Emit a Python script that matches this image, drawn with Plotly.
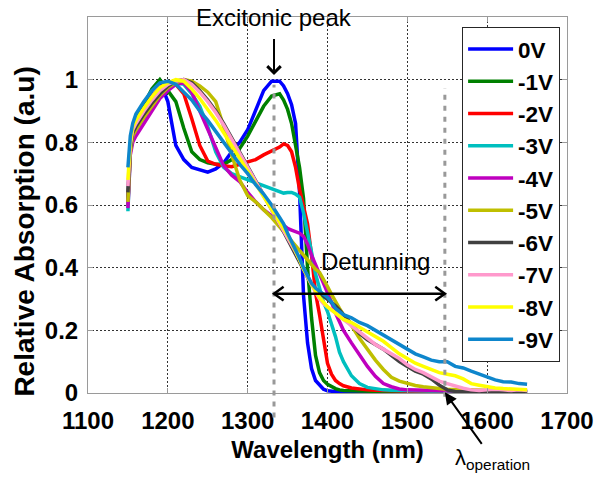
import plotly.graph_objects as go

# Wavelength grid (nm)
wavelength = [1150, 1153, 1156,
              1160, 1170, 1180, 1190, 1200, 1210, 1220, 1230, 1240, 1250, 1260, 1270, 1280, 1290, 1300, 1310, 1320, 1330, 1340,
              1345, 1350, 1355, 1360, 1365, 1370, 1375, 1380, 1385, 1390, 1395, 1400, 1405, 1410, 1415, 1420,
              1430, 1440, 1450, 1460, 1470, 1480, 1490, 1500, 1510, 1520, 1530, 1540, 1550, 1560, 1570, 1580, 1590,
              1600, 1610, 1620, 1630, 1640, 1650]

abs_0V = [0.62, 0.79, 0.84,
          0.87, 0.92, 0.965, 0.995, 0.93, 0.79, 0.745, 0.72, 0.712, 0.705, 0.715, 0.735, 0.77, 0.80, 0.84, 0.90, 0.965, 0.995, 0.995,
          0.98, 0.955, 0.92, 0.86, 0.64, 0.31, 0.16, 0.078, 0.04, 0.024, 0.012, 0.007, 0.005, 0.004, 0.003, 0.003,
          0.003, 0.003, 0.003, 0.003, 0.003, 0.003, 0.003, 0.003, 0.003, 0.003, 0.003, 0.003, 0.003, 0.003, 0.003,
          0.003, 0.003, 0.003, 0.003, 0.003, 0.003, 0.003, 0.003]
abs_1V = [0.61, 0.78, 0.83,
          0.87, 0.92, 0.97, 1.0, 0.965, 0.93, 0.845, 0.77, 0.745, 0.735, 0.73, 0.73, 0.745, 0.78, 0.82, 0.865, 0.915, 0.948, 0.955,
          0.935, 0.905, 0.86, 0.79, 0.72, 0.62, 0.40, 0.24, 0.12, 0.065, 0.04, 0.028, 0.02, 0.014, 0.01, 0.008,
          0.007, 0.006, 0.005, 0.005, 0.004, 0.004, 0.004, 0.003, 0.003, 0.003, 0.003, 0.003, 0.003, 0.003, 0.003,
          0.003, 0.003, 0.003, 0.003, 0.003, 0.003, 0.003, 0.003]
abs_2V = [0.60, 0.78, 0.83,
          0.86, 0.905, 0.945, 0.975, 0.99, 0.985, 0.955, 0.875, 0.79, 0.74, 0.73, 0.725, 0.722, 0.73, 0.738, 0.745, 0.76, 0.772, 0.785,
          0.795, 0.79, 0.77, 0.72, 0.65, 0.60, 0.54, 0.44, 0.32, 0.25, 0.165, 0.095, 0.06, 0.04, 0.03, 0.023,
          0.016, 0.012, 0.01, 0.009, 0.008, 0.007, 0.006, 0.006, 0.005, 0.005, 0.005, 0.005, 0.005, 0.005, 0.005,
          0.005, 0.005, 0.005, 0.005, 0.005, 0.005, 0.005, 0.005]
abs_3V = [0.58, 0.77, 0.81,
          0.84, 0.88, 0.92, 0.955, 0.98, 0.99, 0.985, 0.955, 0.915, 0.85, 0.77, 0.72, 0.70, 0.69, 0.68, 0.67, 0.66, 0.652, 0.642,
          0.638, 0.64, 0.64, 0.635, 0.625, 0.575, 0.515, 0.45, 0.38, 0.33, 0.29, 0.26, 0.22, 0.18, 0.13, 0.10,
          0.055, 0.03, 0.018, 0.013, 0.01, 0.009, 0.008, 0.007, 0.007, 0.006, 0.006, 0.006, 0.006, 0.006, 0.006,
          0.006, 0.006, 0.006, 0.006, 0.006, 0.006, 0.006, 0.006]
abs_4V = [0.59, 0.76, 0.80,
          0.82, 0.86, 0.90, 0.94, 0.965, 0.985, 0.99, 0.96, 0.90, 0.84, 0.78, 0.725, 0.695, 0.675, 0.64, 0.61, 0.585, 0.565, 0.545,
          0.535, 0.525, 0.52, 0.515, 0.51, 0.50, 0.475, 0.44, 0.41, 0.385, 0.355, 0.32, 0.29, 0.255, 0.23, 0.20,
          0.16, 0.12, 0.085, 0.053, 0.03, 0.02, 0.013, 0.01, 0.009, 0.008, 0.007, 0.007, 0.007, 0.007, 0.007,
          0.007, 0.007, 0.007, 0.007, 0.007, 0.007, 0.007, 0.007]
abs_5V = [0.61, 0.77, 0.82,
          0.84, 0.88, 0.915, 0.95, 0.975, 0.99, 1.0, 0.995, 0.98, 0.96, 0.93, 0.85, 0.76, 0.68, 0.63, 0.61, 0.585, 0.56, 0.53,
          0.515, 0.50, 0.485, 0.47, 0.455, 0.44, 0.425, 0.41, 0.395, 0.385, 0.365, 0.34, 0.315, 0.29, 0.27, 0.25,
          0.215, 0.175, 0.14, 0.105, 0.075, 0.05, 0.038, 0.03, 0.024, 0.02, 0.016, 0.014, 0.012, 0.011, 0.01,
          0.01, 0.009, 0.009, 0.008, 0.008, 0.008, 0.008, 0.008]
abs_6V = [0.64, 0.78, 0.83,
          0.85, 0.89, 0.925, 0.955, 0.98, 0.995, 1.0, 0.99, 0.965, 0.935, 0.90, 0.86, 0.815, 0.77, 0.725, 0.675, 0.63, 0.585, 0.54,
          0.515, 0.49, 0.465, 0.44, 0.415, 0.39, 0.365, 0.345, 0.33, 0.32, 0.31, 0.30, 0.29, 0.278, 0.265, 0.25,
          0.22, 0.19, 0.17, 0.155, 0.14, 0.12, 0.10, 0.085, 0.07, 0.06, 0.045, 0.025, 0.01, 0.005, 0.004,
          0.004, 0.004, 0.004, 0.004, 0.004, 0.004, 0.004, 0.004]
abs_7V = [0.66, 0.79, 0.84,
          0.86, 0.90, 0.935, 0.965, 0.985, 0.995, 1.0, 0.985, 0.96, 0.93, 0.895, 0.855, 0.81, 0.765, 0.72, 0.675, 0.63, 0.585, 0.54,
          0.52, 0.50, 0.475, 0.45, 0.425, 0.395, 0.37, 0.345, 0.32, 0.30, 0.285, 0.275, 0.265, 0.255, 0.245, 0.235,
          0.215, 0.195, 0.175, 0.155, 0.14, 0.125, 0.11, 0.09, 0.075, 0.065, 0.05, 0.038, 0.03, 0.022, 0.015,
          0.01, 0.008, 0.01, 0.012, 0.01, 0.008, 0.01, 0.008]
abs_8V = [0.68, 0.80, 0.85,
          0.87, 0.91, 0.945, 0.975, 0.99, 1.0, 0.995, 0.97, 0.94, 0.905, 0.87, 0.83, 0.79, 0.75, 0.71, 0.67, 0.63, 0.59, 0.55,
          0.53, 0.505, 0.48, 0.455, 0.425, 0.395, 0.37, 0.345, 0.325, 0.305, 0.29, 0.275, 0.265, 0.255, 0.245, 0.235,
          0.225, 0.21, 0.195, 0.18, 0.165, 0.145, 0.125, 0.11, 0.095, 0.085, 0.075, 0.065, 0.06, 0.055, 0.045,
          0.03, 0.025, 0.02, 0.016, 0.014, 0.012, 0.01, 0.01]
abs_9V = [0.72, 0.82, 0.86,
          0.89, 0.93, 0.965, 0.99, 0.995, 0.985, 0.96, 0.935, 0.90, 0.87, 0.835, 0.80, 0.765, 0.73, 0.70, 0.665, 0.635, 0.60, 0.56,
          0.54, 0.51, 0.485, 0.455, 0.43, 0.40, 0.375, 0.35, 0.335, 0.325, 0.315, 0.305, 0.29, 0.27, 0.26, 0.25,
          0.24, 0.225, 0.215, 0.20, 0.185, 0.17, 0.155, 0.14, 0.125, 0.115, 0.105, 0.10, 0.10, 0.085, 0.08,
          0.07, 0.06, 0.05, 0.042, 0.036, 0.035, 0.03, 0.028]

series_names = ["0V", "-1V", "-2V", "-3V", "-4V", "-5V", "-6V", "-7V", "-8V", "-9V"]
series_values = [abs_0V, abs_1V, abs_2V, abs_3V, abs_4V, abs_5V, abs_6V, abs_7V, abs_8V, abs_9V]
series_colors = ["#0000FF", "#008000", "#FF0000", "#00BFBF", "#BF00BF",
                 "#BFBF00", "#404040", "#FF99CC", "#FFFF00", "#0E86CC"]

x_ticks = [1100, 1200, 1300, 1400, 1500, 1600, 1700]
y_ticks = [0, 0.2, 0.4, 0.6, 0.8, 1]
y_ticklabels = ["0", "0.2", "0.4", "0.6", "0.8", "1"]

exciton_wl = 1333
operation_wl = 1547
detuning_level = 0.317

FONT = "Liberation Sans, Arial, sans-serif"

fig = go.Figure()
for i, (name, vals, col) in enumerate(zip(series_names, series_values, series_colors)):
    fig.add_trace(go.Scatter(x=wavelength, y=vals, mode="lines", name=name,
                             legendgroup=f"g{i}",
                             line=dict(color=col, width=3.5)))

axis_common = dict(showline=True, linecolor="#9a9a9a", linewidth=1, mirror="ticks",
                   ticks="inside", ticklen=5, tickcolor="#9a9a9a",
                   showgrid=True, gridcolor="#333333", gridwidth=1, griddash="2px,2px",
                   zeroline=False,
                   tickfont=dict(family=FONT, size=24, color="black", weight="bold"))

fig.update_xaxes(range=[1100, 1700], tickvals=x_ticks, ticklabelstandoff=6,
                 title=dict(text="Wavelength (nm)", standoff=8,
                            font=dict(family=FONT, size=24, color="black", weight="bold")),
                 **axis_common)
fig.update_yaxes(range=[0, 1.2], tickvals=y_ticks, ticktext=y_ticklabels, ticklabelstandoff=4,
                 **axis_common)

# vertical dashed markers
for wl, bottom, top in [(exciton_wl, -0.065, 0.82), (operation_wl, -0.01, 0.81)]:
    fig.add_shape(type="line", xref="x", yref="paper", x0=wl, x1=wl, y0=bottom,
                  y1=top, line=dict(color="#999999", width=3, dash="5px,6px"))

# detuning double arrow (shaft + open heads)
head_dx, head_dy = 12, 0.022
fig.add_shape(type="line", xref="x", yref="y", x0=exciton_wl, x1=operation_wl,
              y0=detuning_level, y1=detuning_level, line=dict(color="black", width=2.5))
for tip, sgn in [(exciton_wl, 1), (operation_wl, -1)]:
    fig.add_shape(type="path", xref="x", yref="y",
                  path=(f"M{tip + sgn * head_dx},{detuning_level + head_dy} "
                        f"L{tip},{detuning_level} L{tip + sgn * head_dx},{detuning_level - head_dy}"),
                  line=dict(color="black", width=2.5))

annotations = [
    dict(text="Relative Absorption (a.u)", xref="paper", yref="paper", x=-0.133, y=0.43,
         textangle=-90, showarrow=False, xanchor="center", yanchor="middle",
         font=dict(family=FONT, size=28, color="black", weight="bold")),
    dict(text="Excitonic peak", xref="x", yref="y", x=exciton_wl, y=1.015, ax=0, ay=-57,
         showarrow=True, arrowhead=4, arrowsize=1.3, arrowwidth=2, arrowcolor="black",
         startstandoff=6,
         font=dict(family=FONT, size=24, color="black")),
    dict(text="Detunning", xref="paper", yref="paper", x=0.601, y=0.349,
         showarrow=False, xanchor="center", yanchor="middle",
         font=dict(family=FONT, size=24, color="black")),
    dict(text="λ<sub>operation</sub>", xref="x", yref="y", x=operation_wl, y=0.002, ax=48, ay=67,
         showarrow=True, arrowhead=2, arrowsize=1.2, arrowwidth=2, arrowcolor="black",
         font=dict(family=FONT, size=22, color="black")),
]

fig.update_layout(
    width=606, height=480,
    margin=dict(l=88, r=34, t=17, b=87),
    paper_bgcolor="white", plot_bgcolor="white",
    annotations=annotations,
    showlegend=True,
    legend=dict(x=0.781, y=0.974, xanchor="left", yanchor="top",
                bgcolor="white", bordercolor="#262626", borderwidth=1,
                font=dict(family=FONT, size=22.5, color="black", weight="bold"),
                tracegroupgap=0, itemwidth=45),
)

fig.write_html("out.html")
